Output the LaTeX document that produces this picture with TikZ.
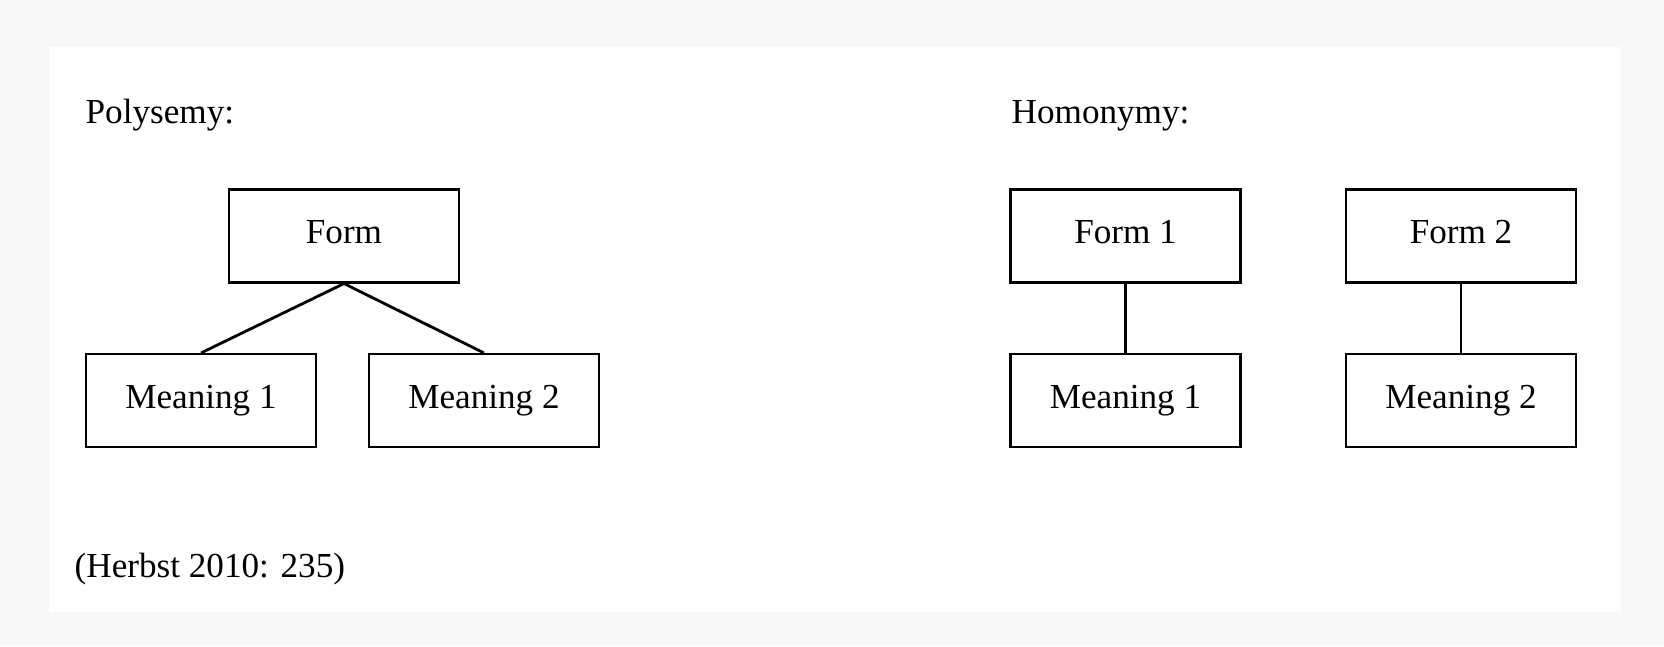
\documentclass[tikz,border=0pt]{standalone}
\usepackage{fontspec}
\setmainfont{Liberation Serif}
\definecolor{bggray}{RGB}{248,248,248}
\begin{document}
\begin{tikzpicture}[box/.style={draw, line width=0.6pt, minimum width=2.3cm, minimum height=0.93cm, inner sep=0pt, text height=0.66em, text depth=0.22em}, lbl/.style={anchor=base west, inner sep=0pt}]
\fill[bggray] (0,0) rectangle (16.64,6.46);
\fill[white] (0.49,0.34) rectangle (16.21,5.99);
% polysemy
\node[lbl] (poltitle) at (0.85,5.23){Polysemy:};
\node[box] (pol0) at (3.44,4.10){Form};
\node[box] (pol1) at (2.01,2.455){Meaning 1};
\draw[line width=0.8pt](pol0.south) -- (pol1.north);
\node[box] (pol2) at (4.84,2.455){Meaning 2};
\draw[line width=0.8pt](pol0.south) -- (pol2.north);
% homonymy
\node[lbl] (homtitle) at (10.11,5.23){Homonymy:};
\node[box] (hom1) at (11.255,4.10){Form 1};
\node[box] (hom3) at (11.255,2.455){Meaning 1};
\draw[line width=0.6pt](hom1) -- (hom3);
\node[box] (hom2) at (14.61,4.10){Form 2};
\node[box] (hom4) at (14.61,2.455){Meaning 2};
\draw[line width=0.6pt](hom2) -- (hom4);
\node[lbl] (source) at (0.74,0.69){(Herbst 2010: 235)};
\end{tikzpicture}
\end{document}
